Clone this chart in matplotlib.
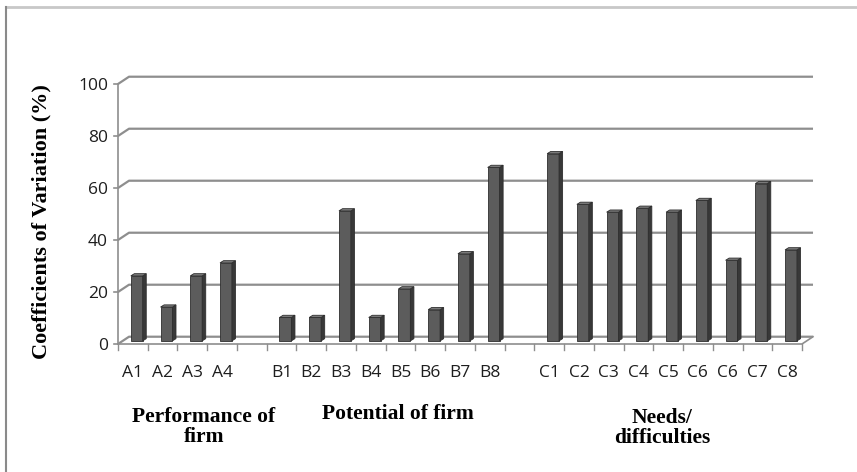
import matplotlib
matplotlib.use("Agg")
import matplotlib.pyplot as plt
from matplotlib.patches import Polygon

# Coefficients of variation (%) by item group
group_names = ["Performance of\nfirm", "Potential of firm", "Needs/\ndifficulties"]
a_labels = ["A1", "A2", "A3", "A4"]
a_values = [25, 13, 25, 30]
b_labels = ["B1", "B2", "B3", "B4", "B5", "B6", "B7", "B8"]
b_values = [9, 9, 50, 9, 20, 12, 33.5, 66.7]
c_labels = ["C1", "C2", "C3", "C4", "C5", "C6", "C6", "C7", "C8"]
c_values = [72, 52.5, 49.5, 51, 49.5, 54, 31, 60.5, 35]
y_ticks = [0, 20, 40, 60, 80, 100]

# Slot layout: one empty slot between groups
labels, values = [], []
for i, (lab, val) in enumerate([(a_labels, a_values), (b_labels, b_values), (c_labels, c_values)]):
    if i:
        labels.append("")
        values.append(None)
    labels += lab
    values += val
n = len(labels)

W, H = 857, 472
fig = plt.figure(figsize=(W / 100, H / 100), dpi=100)

# Axes geometry in pixels: x=0 at px 118, x=n at px 802; y=0 at px 344, y=100 at px 84
px_slot = (802 - 118) / n
px_unit = 2.6
x0, x1 = -0.17, n + 0.6
y0, y1 = -8, 106
left = 118 + x0 * px_slot
bottom = H - (344 - y0 * px_unit)
ax = fig.add_axes([left / W, bottom / H, (x1 - x0) * px_slot / W, (y1 - y0) * px_unit / H])
ax.set_xlim(x0, x1)
ax.set_ylim(y0, y1)
for s in ax.spines.values():
    s.set_visible(False)

# depth of the back wall (in data units)
dx, dy = 0.37, 2.8
grid_c = "#8e8e8e"

# back-wall gridlines with their side-wall segment
for v in y_ticks:
    ax.plot([0, dx, n + dx], [v, v + dy, v + dy], color=grid_c, lw=1.6, zorder=1,
            solid_capstyle="butt")
    ax.plot([-0.14, 0], [v, v], color=grid_c, lw=1.2, zorder=1)
# front vertical axis
ax.plot([0, 0], [0, 100], color=grid_c, lw=1.2, zorder=1)
# floor
ax.plot([0, n, n + dx], [0, 0, dy], color=grid_c, lw=1.2, zorder=1)
# category ticks below the floor
for k in range(n + 1):
    ax.plot([k, k], [0, -2.4], color=grid_c, lw=1.0, zorder=1)

# 3-D style columns
bw = 0.40
off_x = 0.43
base = 1.2
sdx, sdy = 0.12, 0.85
for k, v in enumerate(values):
    if v is None:
        continue
    xa = k + off_x
    xb = xa + bw
    top = base + v
    front = Polygon([(xa, base), (xb, base), (xb, top), (xa, top)], closed=True,
                    facecolor="#5c5c5c", edgecolor="#2e2e2e", lw=0.6, zorder=3)
    side = Polygon([(xb, base), (xb + sdx, base + sdy), (xb + sdx, top + sdy), (xb, top)],
                   closed=True, facecolor="#383838", edgecolor="#2e2e2e", lw=0.6, zorder=3)
    cap = Polygon([(xa, top), (xb, top), (xb + sdx, top + sdy), (xa + sdx, top + sdy)],
                  closed=True, facecolor="#7a7a7a", edgecolor="#2e2e2e", lw=0.6, zorder=3)
    for p in (front, side, cap):
        ax.add_patch(p)

# tick labels
tick_font = dict(fontsize=12.5, fontfamily="Open Sans", color="#1e1e1e")
ax.set_yticks(y_ticks)
ax.set_yticklabels([str(t) for t in y_ticks], **tick_font)
ax.tick_params(axis="y", length=0, pad=3.6)
ax.set_xticks([k + 0.5 for k in range(n)])
ax.set_xticklabels(labels, **tick_font)
ax.tick_params(axis="x", length=0, pad=0.5)

# group titles
serif = "Liberation Serif"
title_font = dict(ha="center", va="center", fontsize=15.5, fontweight="bold",
                  fontfamily=serif, linespacing=1.05)
fig.text(204 / W, 1 - 427 / H, group_names[0], **title_font)
fig.text(398 / W, 1 - 414 / H, group_names[1], **title_font)
fig.text(662 / W, 1 - 428 / H, group_names[2], **title_font)

# y-axis title
fig.text(41 / W, 1 - 222 / H, "Coefficients of Variation (%)", rotation=90, ha="center",
         va="center", fontsize=16, fontweight="bold", fontfamily=serif)

# chart-area frame (top and left edges)
fig.add_artist(plt.Line2D([6 / W, 1], [1 - 7 / H, 1 - 7 / H], color="#c8c8c8", lw=2.0,
                          transform=fig.transFigure))
fig.add_artist(plt.Line2D([6 / W, 6 / W], [0, 1 - 7 / H], color="#8a8a8a", lw=1.5,
                          transform=fig.transFigure))

fig.savefig("out.png", dpi=100)
